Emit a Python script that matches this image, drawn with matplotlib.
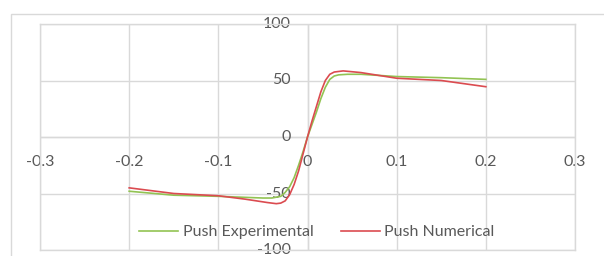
import matplotlib
matplotlib.use("Agg")
import matplotlib.pyplot as plt
from matplotlib.patches import Rectangle

# Data
exp_x = [-0.2, -0.15, -0.1, -0.05, -0.04, -0.03, -0.025, -0.02, -0.015, -0.01, -0.005, 0.0,
         0.005, 0.01, 0.015, 0.02, 0.025, 0.03, 0.035, 0.045, 0.06, 0.1, 0.15, 0.2]
exp_y = [-48, -51.5, -52.5, -54, -54, -52.5, -49, -44, -36, -25, -13, 0,
         11, 22, 34, 44, 51, 54, 55, 55.5, 55.5, 53.5, 52.5, 51]

num_x = [-0.2, -0.15, -0.1, -0.07, -0.045, -0.035, -0.03, -0.025, -0.02, -0.015, -0.01, -0.005, 0.0,
         0.005, 0.01, 0.015, 0.02, 0.025, 0.03, 0.04, 0.06, 0.1, 0.15, 0.2]
num_y = [-45, -50, -52, -55, -58, -59, -58.5, -56.5, -51, -42, -30, -15, 0,
         14, 27, 40, 50, 55.5, 57.5, 58.5, 57, 52, 50, 44.5]

x_ticks = [-0.3, -0.2, -0.1, 0, 0.1, 0.2, 0.3]
x_labels = ["-0.3", "-0.2", "-0.1", "0", "0.1", "0.2", "0.3"]
y_ticks = [-100, -50, 0, 50, 100]
y_labels = ["-100", "-50", "0", "50", "100"]

W, H = 604, 256
fig = plt.figure(figsize=(W / 100, H / 100), dpi=100)
fig.patch.set_facecolor("white")

# outer chart border
fig.patches.append(Rectangle((10.5 / W, -0.1), 1.0, (H - 13.5) / H + 0.1,
                             transform=fig.transFigure, fill=False,
                             edgecolor="#d9d9d9", linewidth=1.0))

ax = fig.add_axes([40 / W, 6 / H, (575 - 40) / W, (250 - 24) / H])
ax.set_xlim(-0.3, 0.3)
ax.set_ylim(-100, 100)
ax.set_facecolor("none")
for s in ax.spines.values():
    s.set_color("#d9d9d9")
    s.set_linewidth(1.0)
ax.set_xticks(x_ticks)
ax.set_yticks(y_ticks)
ax.tick_params(length=0, labelbottom=False, labelleft=False)
ax.grid(True, color="#d9d9d9", linewidth=1.0)
ax.axhline(0, color="#d9d9d9", linewidth=1.0, zorder=1)
ax.axvline(0, color="#d9d9d9", linewidth=1.0, zorder=1)

green = "#92c353"
red = "#db4b50"
font = "Lato"
tc = "#595959"
fs = 11.5

ax.plot(exp_x, exp_y, color=green, linewidth=1.2, label="Push Experimental", zorder=3,
        solid_joinstyle="round")
ax.plot(num_x, num_y, color=red, linewidth=1.2, label="Push Numerical", zorder=4,
        solid_joinstyle="round")

# tick labels near the axes crossing at origin
for xv, lab in zip(x_ticks, x_labels):
    ax.annotate(lab, (xv, 0), xytext=(0, -25), textcoords="offset pixels",
                ha="center", va="center", color=tc, fontsize=fs, family=font, zorder=2)
for yv, lab in zip(y_ticks, y_labels):
    ax.annotate(lab, (0, yv), xytext=(-17, 0), textcoords="offset pixels",
                ha="right", va="center", color=tc, fontsize=fs, family=font, zorder=2)

leg = ax.legend(loc="center", bbox_to_anchor=((317 - 40) / (575 - 40), (H - 232 - 6) / (250 - 24)),
                ncol=2, frameon=False, prop={"family": font, "size": fs},
                handlelength=2.4, handletextpad=0.3, columnspacing=1.75)
for t in leg.get_texts():
    t.set_color(tc)

fig.savefig("out.png", dpi=100, facecolor="white")
